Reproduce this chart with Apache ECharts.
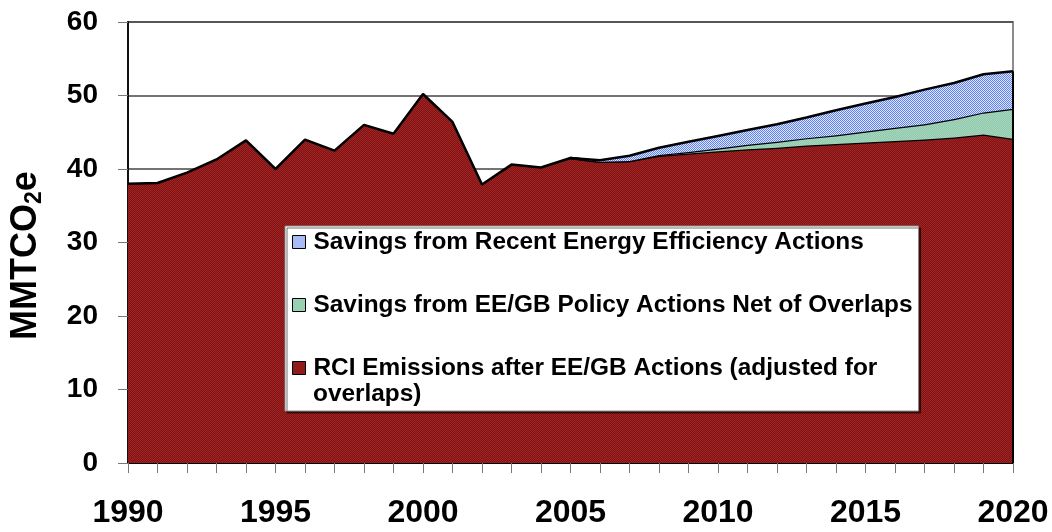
<!DOCTYPE html>
<html><head><meta charset="utf-8">
<script src="https://cdn.jsdelivr.net/npm/echarts@6/dist/echarts.min.js"></script>
<style>html,body{margin:0;padding:0;background:#fff}#c{width:1052px;height:532px}</style>
</head><body><div id="c"></div>
<script>
// ---- data ----
const years = ['1990','1991','1992','1993','1994','1995','1996','1997','1998','1999','2000','2001','2002','2003','2004','2005','2006','2007','2008','2009','2010','2011','2012','2013','2014','2015','2016','2017','2018','2019','2020'];
const rciEmissions = [38.0,38.1,39.5,41.3,43.9,40.0,44.0,42.5,46.0,44.8,50.2,46.4,37.9,40.6,40.2,41.5,41.0,41.1,41.8,42.1,42.4,42.7,42.9,43.2,43.4,43.6,43.8,44.0,44.3,44.7,44.1];
const eeGbSavings = ['-','-','-','-','-','-','-','-','-','-','-','-','-','-','-',0,0,0,0.1,0.2,0.4,0.6,0.8,1.0,1.2,1.5,1.8,2.1,2.5,3.0,4.1];
const recentEESavings = ['-','-','-','-','-','-','-','-','-','-','-','-','-','-','-',0,0.2,0.7,1.0,1.4,1.7,2.0,2.4,2.8,3.4,3.8,4.2,4.7,4.9,5.2,5.1];
const seriesNames = ['Savings from Recent Energy Efficiency Actions','Savings from EE/GB Policy Actions Net of Overlaps','RCI Emissions after EE/GB Actions (adjusted for overlaps)'];
const yTicks = {min: 0, max: 60, interval: 10};

const FONT = '"Liberation Sans", Arial, sans-serif';
function pattern(a, b) {
  const cv = document.createElement('canvas');
  cv.width = 2; cv.height = 2;
  const ctx = cv.getContext('2d');
  ctx.fillStyle = a; ctx.fillRect(0,0,2,2);
  ctx.fillStyle = b; ctx.fillRect(0,0,1,1); ctx.fillRect(1,1,1,1);
  return {image: cv, repeat: 'repeat'};
}
const redPat = pattern('#7e1414', '#a02222');
const greenPat = pattern('#8fc8aa', '#a6d6bd');
const bluePat = pattern('#dfe6ff', '#5f82f0');

const lastIdx = years.length - 1;
const stackTop = rciEmissions[lastIdx] + eeGbSavings[lastIdx] + recentEESavings[lastIdx];

const chart = echarts.init(document.getElementById('c'), null, {renderer: 'canvas'});
const lineStyle = {color: '#000', width: 2.5};
chart.setOption({
  animation: false,
  backgroundColor: '#fff',
  grid: {left: 128, right: 39, top: 22, bottom: 69, show: true, borderColor: '#8c8c8c', borderWidth: 2, containLabel: false},
  xAxis: {
    type: 'category', data: years, boundaryGap: false,
    axisLine: {lineStyle: {color: '#000', width: 2}},
    axisTick: {show: true, interval: 0, length: 10, lineStyle: {color: '#777', width: 1}},
    axisLabel: {interval: 4, margin: 34, color: '#000', fontFamily: FONT, fontWeight: 'bold', fontSize: 32},
    splitLine: {show: false}
  },
  yAxis: {
    type: 'value', min: yTicks.min, max: yTicks.max, interval: yTicks.interval,
    name: '{a|MMTCO}{s|2}{a|e}', nameLocation: 'middle', nameRotate: 90, nameGap: 82,
    nameTextStyle: {padding: [0, 26, 0, 0], rich: {
      a: {fontFamily: FONT, fontWeight: 'bold', fontSize: 36, color: '#000', lineHeight: 40},
      s: {fontFamily: FONT, fontWeight: 'bold', fontSize: 23, color: '#000', lineHeight: 20, verticalAlign: 'bottom'}
    }},
    axisLine: {show: true, lineStyle: {color: '#111', width: 2}},
    axisTick: {show: true, length: 10, lineStyle: {color: '#777', width: 1}},
    axisLabel: {margin: 30, color: '#000', fontFamily: FONT, fontWeight: 'bold', fontSize: 28},
    splitLine: {show: true, lineStyle: {color: '#444', width: 1.5}}
  },
  legend: {
    orient: 'vertical', left: 285, top: 226,
    padding: [2, 5, 29, 7], itemGap: 35, itemWidth: 13, itemHeight: 13,
    backgroundColor: '#fff', borderColor: '#888', borderWidth: 1,
    shadowColor: 'rgba(0,0,0,0.55)', shadowOffsetX: 2, shadowOffsetY: 2, shadowBlur: 0,
    icon: 'rect', selectedMode: false,
    textStyle: {fontFamily: FONT, fontWeight: 'bold', fontSize: 24.4, color: '#000', lineHeight: 28, width: 600, padding: [0,0,0,3]},
    formatter: function (n) { return n === seriesNames[2] ? 'RCI Emissions after EE/GB Actions (adjusted for' : n; },
    data: [
      {name: seriesNames[0], itemStyle: {color: '#a9bbf5', borderColor: '#000', borderWidth: 1}},
      {name: seriesNames[1], itemStyle: {color: '#99cfb3', borderColor: '#000', borderWidth: 1}},
      {name: seriesNames[2], itemStyle: {color: '#8f1b1b', borderColor: '#000', borderWidth: 1}}
    ]
  },
  graphic: [{
    type: 'text', left: 313, top: 382, z: 100,
    style: {text: 'overlaps)', font: 'bold 24.4px ' + FONT, fill: '#000'}
  }],
  series: [
    {name: seriesNames[2], type: 'line', stack: 'total', data: rciEmissions, symbol: 'none',
     itemStyle: {color: '#8f1b1b'}, lineStyle: lineStyle, areaStyle: {color: redPat, opacity: 1}, z: 2},
    {name: seriesNames[1], type: 'line', stack: 'total', data: eeGbSavings, symbol: 'none',
     itemStyle: {color: '#99cfb3'}, lineStyle: lineStyle, areaStyle: {color: greenPat, opacity: 1}, z: 3},
    {name: seriesNames[0], type: 'line', stack: 'total', data: recentEESavings, symbol: 'none',
     itemStyle: {color: '#a9bbf5'}, lineStyle: lineStyle, areaStyle: {color: bluePat, opacity: 1}, z: 4,
     markLine: {silent: true, symbol: 'none', label: {show: false}, lineStyle: {color: '#000', width: 2, type: 'solid'},
       data: [[{coord: [years[lastIdx], 0]}, {coord: [years[lastIdx], stackTop]}]]}}
  ]
});
</script></body></html>
